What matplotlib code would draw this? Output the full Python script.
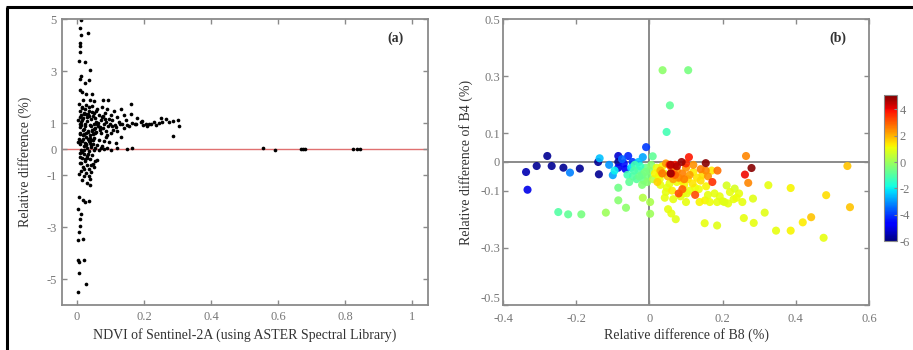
import matplotlib
matplotlib.use("Agg")
import matplotlib.pyplot as plt
from matplotlib.lines import Line2D
import numpy as np

plt.rcParams['font.family'] = ['Liberation Serif', 'DejaVu Serif']
plt.rcParams['axes.unicode_minus'] = False

# ---------------- Panel (a) data: NDVI vs relative difference ----------------
ndvi = [
    0.012, 0.010, 0.032, 0.012, 0.010, 0.010, 0.008, 0.005, 0.024, 0.040,
    0.012, 0.010, 0.036, 0.024, 0.008, 0.014, 0.028, 0.044, 0.018, 0.052,
    0.040, 0.078, 0.092, 0.160,
    0.006, 0.015, 0.028, 0.045, 0.060, 0.075, 0.090, 0.110, 0.130, 0.008,
    0.020, 0.035, 0.050, 0.065, 0.082, 0.100, 0.120, 0.140, 0.160, 0.180,
    0.010, 0.018, 0.030, 0.042, 0.055, 0.070, 0.085, 0.095, 0.105, 0.125,
    0.145, 0.165, 0.190, 0.205, 0.220, 0.235, 0.245, 0.255, 0.265, 0.275,
    0.250, 0.300, 0.305, 0.285, 0.230, 0.210, 0.195, 0.175, 0.155, 0.135,
    0.115, 0.012, 0.025, 0.038, 0.050, 0.062, 0.078, 0.092, 0.108, 0.120,
    0.140, 0.008, 0.020, 0.032, 0.045, 0.058, 0.072, 0.088, 0.100, 0.130,
    0.285, 0.010, 0.018, 0.028, 0.040, 0.052, 0.065, 0.080, 0.095, 0.115,
    0.006, 0.015, 0.025, 0.035, 0.048, 0.060, 0.075, 0.090, 0.120, 0.165,
    0.008, 0.020, 0.030, 0.042, 0.055, 0.070, 0.012, 0.022, 0.035, 0.050,
    0.065, 0.080, 0.100, 0.150,
    0.016, 0.026, 0.036, 0.046, 0.056, 0.014, 0.024, 0.034, 0.044, 0.054,
    0.022, 0.032, 0.042, 0.068, 0.085, 0.012, 0.026, 0.038, 0.048,
    0.004, 0.009, 0.013, 0.019, 0.023, 0.027, 0.031, 0.037, 0.041, 0.047,
    0.051, 0.057, 0.063, 0.067, 0.073, 0.079, 0.083, 0.087, 0.097, 0.103,
    0.004, 0.009, 0.013, 0.017, 0.021, 0.027, 0.033, 0.039, 0.043, 0.049,
    0.053, 0.061, 0.069, 0.077, 0.112, 0.128, 0.148, 0.172, 0.198, 0.215,
    0.008, 0.016, 0.024, 0.033, 0.041, 0.005, 0.013, 0.021, 0.029, 0.037,
    0.010, 0.020, 0.030, 0.045, 0.015, 0.025, 0.040, 0.055, 0.010, 0.030,
    0.048, 0.060, 0.018, 0.035, 0.050, 0.012, 0.028, 0.042, 0.022, 0.038,
    0.015, 0.030, 0.040, 0.006, 0.018, 0.035, 0.025, 0.004, 0.012, 0.008,
    0.010, 0.006, 0.018, 0.004, 0.004, 0.022, 0.006, 0.006, 0.028, 0.004,
    0.555, 0.590, 0.670, 0.675, 0.680, 0.825, 0.835, 0.845,
]
rel_diff = [
    4.96, 4.65, 4.45, 4.40, 4.06, 3.95, 3.75, 3.40, 3.35, 3.05,
    2.80, 2.70, 2.65, 2.55, 2.27, 2.20, 2.12, 2.10, 1.90, 1.84,
    1.88, 1.88, 1.88, 1.72,
    1.75, 1.62, 1.70, 1.65, 1.55, 1.60, 1.52, 1.45, 1.55, 1.45,
    1.40, 1.48, 1.38, 1.32, 1.40, 1.30, 1.25, 1.30, 1.35, 1.20,
    1.25, 1.18, 1.22, 1.15, 1.20, 1.12, 1.05, 1.15, 1.10, 1.05,
    1.12, 1.00, 1.02, 0.95, 0.98, 0.92, 1.00, 1.05, 1.15, 1.02,
    1.18, 1.10, 0.90, 1.08, 1.05, 0.90, 1.08, 0.95, 0.88, 0.95,
    0.85, 1.05, 0.98, 0.92, 0.98, 0.88, 0.82, 0.90, 0.75, 0.70,
    0.80, 0.85, 0.78, 0.70, 0.75, 0.65, 0.60, 0.55, 0.62, 0.45,
    0.50, 0.62, 0.55, 0.48, 0.52, 0.42, 0.35, 0.30, 0.28, 0.25,
    0.40, 0.32, 0.25, 0.30, 0.20, 0.15, 0.12, 0.05, 0.02, 0.05,
    0.18, 0.10, 0.05, 0.08, 0.02, 0.04, -0.02, -0.05, -0.08, -0.04,
    -0.02, -0.01, -0.02, 0.00,
    1.58, 1.36, 1.26, 1.44, 1.02, 1.12, 0.88, 1.34, 0.68, 0.82,
    0.58, 0.40, 0.36, 0.72, 0.48, 0.30, 0.14, 0.22, 0.56,
    1.10, 0.95, 1.30, 0.72, 1.52, 0.60, 1.08, 1.62, 0.88, 1.28,
    0.76, 1.46, 1.00, 0.84, 1.24, 0.96, 1.16, 0.70, 0.98, 0.88,
    0.28, 0.58, 0.92, 0.38, 1.36, 0.18, 0.66, 0.44, 0.14, 0.36,
    0.62, 0.96, 0.80, 1.26, 0.92, 0.98, 0.94, 0.98, 0.92, 0.96,
    -0.30, -0.12, -0.40, -0.18, -0.62, -0.95, -0.52, -0.78, -0.34, -1.02,
    -0.15, -0.20, -0.28, -0.22, -0.35, -0.45, -0.40, -0.48, -0.55, -0.60,
    -0.58, -0.42, -0.70, -0.75, -0.68, -0.85, -0.92, -0.88, -1.05, -1.15,
    -1.20, -1.30, -1.40, -1.85, -1.95, -2.00, -2.05, -2.30, -2.50, -2.70,
    -2.95, -3.20, -3.45, -3.50, -4.25, -4.25, -4.35, -4.75, -5.20, -5.50,
    0.05, -0.02, 0.00, 0.00, -0.01, 0.00, -0.01, 0.00,
]

# ---------------- Panel (b) data: B8 vs B4 relative difference, coloured ----------------
b8_diff = [
    -0.337, -0.333, -0.308, -0.279, -0.267, -0.235, -0.190, -0.140, -0.138, -0.085,
    -0.085, -0.085, -0.070, -0.065, -0.058, -0.046, -0.009,
    -0.217, -0.136, -0.100, -0.110, -0.075, -0.018, -0.030, -0.050, -0.095,
    0.009, -0.040, -0.030, -0.020, -0.010, -0.045, -0.035, -0.015, -0.005, -0.060,
    -0.025, 0.000, -0.055, 0.005, -0.085, -0.012, -0.028, -0.042, -0.006, -0.020,
    -0.249, -0.222, -0.186, -0.119, -0.085, -0.064, 0.036, 0.106, 0.056, 0.047,
    -0.018, 0.002, 0.002, 0.010,
    0.325, 0.386, 0.483, 0.476, 0.346, 0.386, 0.419, 0.442, 0.548, 0.541,
    0.315, 0.285, 0.283, 0.258, 0.254, 0.233, 0.215, 0.200, 0.185, 0.230,
    0.245, 0.211, 0.185, 0.151, 0.152, 0.137, 0.165, 0.051, 0.072, 0.060,
    0.045, 0.030, 0.025, 0.040, 0.055, 0.075, 0.095, 0.110, 0.125, 0.085,
    0.065, 0.100, 0.020, 0.035, 0.130, 0.145, 0.170, 0.120, 0.105,
    0.015, 0.028, 0.048, 0.062, 0.088, 0.102, 0.118, 0.135, 0.155, 0.178,
    0.192, 0.220, 0.238, 0.022, 0.042, 0.068, 0.093, 0.140, 0.160, 0.205,
    0.270, 0.264, 0.186, 0.154, 0.045, 0.060, 0.075, 0.090, 0.100, 0.080,
    0.065, 0.120, 0.140, 0.160, 0.050, 0.030, 0.110, 0.035, 0.070, 0.095,
    0.261, 0.172, 0.108, 0.080, 0.090, 0.055, 0.070, 0.100, 0.060, 0.125,
    0.279, 0.154, 0.088, 0.058, 0.058, 0.075,
]
b4_diff = [
    -0.035, -0.097, -0.014, 0.021, -0.014, -0.020, -0.023, 0.000, -0.043, 0.021,
    0.000, -0.020, -0.005, -0.025, 0.021, 0.000, 0.052,
    -0.037, 0.013, -0.046, -0.010, 0.010, 0.017, 0.000, -0.020, -0.030,
    0.020, -0.010, -0.030, -0.045, -0.020, -0.050, -0.060, -0.065, -0.050, -0.045,
    -0.015, -0.030, -0.070, -0.010, -0.090, -0.035, -0.050, -0.030, -0.070, -0.080,
    -0.175, -0.183, -0.183, -0.177, -0.134, -0.160, 0.321, 0.321, 0.198, 0.105,
    -0.125, -0.181, -0.140, -0.060,
    -0.081, -0.091, -0.116, -0.265, -0.240, -0.240, -0.211, -0.193, -0.158, -0.014,
    -0.177, -0.213, -0.128, -0.196, -0.140, -0.093, -0.145, -0.137, -0.140, -0.130,
    -0.110, -0.082, -0.222, -0.214, -0.134, -0.140, -0.140, -0.165, -0.200, -0.180,
    -0.105, -0.080, -0.050, -0.040, -0.075, -0.070, -0.080, -0.100, -0.090, -0.120,
    -0.130, -0.140, -0.020, -0.015, -0.055, -0.045, -0.030, -0.035, -0.060,
    -0.040, -0.060, -0.090, -0.100, -0.065, -0.110, -0.075, -0.095, -0.085, -0.110,
    -0.120, -0.105, -0.125, -0.070, -0.125, -0.050, -0.110, -0.065, -0.115, -0.140,
    -0.073, 0.021, -0.030, -0.030, -0.005, -0.020, -0.030, -0.040, -0.020, -0.055,
    -0.060, -0.010, -0.025, -0.050, -0.050, -0.030, -0.045, -0.040, -0.045, -0.060,
    -0.044, -0.070, 0.017, -0.110, -0.095, -0.010, -0.010, -0.005, -0.040, -0.115,
    -0.021, -0.004, 0.000, -0.010, -0.040, -0.015,
]
color_value = [
    -5.5, -5.0, -5.8, -5.8, -5.8, -5.8, -5.8, -5.8, -5.8, -5.2,
    -5.8, -5.0, -4.5, -4.8, -4.2, -4.0, -4.0,
    -3.2, -2.5, -2.8, -3.0, -3.5, -2.8, -2.5, -2.2, -2.0,
    -0.8, -1.2, -1.0, -0.8, -0.6, -1.0, -0.9, -0.7, -0.5, -1.2,
    -1.4, -0.4, -0.8, -0.3, -0.6, -0.5, -0.7, -1.1, -0.3, -0.4,
    -1.0, -0.8, -0.5, 0.0, -0.3, -0.2, -0.2, -0.5, -0.8, -1.2,
    0.3, 0.0, 0.2, 0.3,
    1.0, 1.2, 1.5, 1.0, 1.0, 1.2, 1.3, 1.8, 1.8, 1.8,
    0.9, 1.0, 0.9, 1.0, 1.0, 0.8, 1.0, 1.0, 1.0, 1.0,
    1.0, 0.8, 0.9, 1.0, 1.2, 1.2, 1.1, 1.0, 0.9, 1.0,
    1.0, 1.0, 1.0, 1.0, 1.0, 1.1, 1.2, 1.0, 1.1, 1.0,
    1.0, 1.0, 1.0, 1.2, 1.4, 1.5, 1.3, 1.3, 1.5,
    1.2, 1.1, 1.0, 1.3, 1.2, 1.0, 1.4, 1.1, 1.2, 1.0,
    1.0, 1.0, 1.1, 1.6, 1.0, 1.6, 1.0, 1.5, 1.0, 0.9,
    2.5, 2.5, 2.8, 2.5, 2.3, 2.5, 2.3, 2.6, 2.4, 2.5,
    2.2, 2.4, 2.6, 2.4, 2.0, 2.0, 2.2, 2.7, 2.9, 2.6,
    4.0, 3.5, 3.8, 3.2, 3.0, 3.5, 3.8, 3.6, 3.8, 3.2,
    5.0, 5.0, 4.8, 4.5, 4.8, 4.6,
]

a_xticks = [0, 0.2, 0.4, 0.6, 0.8, 1]
a_xticklabels = ['0', '0.2', '0.4', '0.6', '0.8', '1']
a_yticks = [-5, -3, -1, 0, 1, 3, 5]
a_yticklabels = ['-5', '-3', '-1', '0', '1', '3', '5']
b_xticks = [-0.4, -0.2, 0, 0.2, 0.4, 0.6]
b_xticklabels = ['-0.4', '-0.2', '0', '0.2', '0.4', '0.6']
b_yticks = [-0.5, -0.3, -0.1, 0, 0.1, 0.3, 0.5]
b_yticklabels = ['-0.5', '-0.3', '-0.1', '0', '0.1', '0.3', '0.5']
cb_ticks = [-6, -4, -2, 0, 2, 4]

W, H = 913, 350
fig = plt.figure(figsize=(W / 100, H / 100), dpi=100)

spine_c = '#8a8a8a'
tick_c = '#777777'
label_c = '#333333'


def style(ax):
    for s in ax.spines.values():
        s.set_color(spine_c)
        s.set_linewidth(1.3)
    ax.tick_params(direction='in', length=3.5, width=1, color=spine_c,
                   labelcolor=tick_c, labelsize=9, top=True, right=True, pad=4)


ax1 = fig.add_axes([62 / W, 1 - 305 / H, 366 / W, 286 / H])
ax1.axhline(0, color='#e07070', lw=1.0, zorder=1)
ax1.scatter(ndvi, rel_diff, s=7, c='black', marker='o', linewidths=0, zorder=2)
ax1.set_xlim(-0.045, 1.048)
ax1.set_ylim(-6, 5)
ax1.set_xticks(a_xticks)
ax1.set_xticklabels(a_xticklabels)
ax1.set_yticks(a_yticks)
ax1.set_yticklabels(a_yticklabels)
style(ax1)
ax1.set_xlabel('NDVI of Sentinel-2A (using ASTER Spectral Library)', fontsize=10, color=label_c, labelpad=4)
ax1.set_ylabel('Relative difference (%)', fontsize=10, color=label_c, labelpad=10)
ax1.text(0.91, 0.934, '(a)', transform=ax1.transAxes, fontsize=10, fontweight='bold',
         color=label_c, ha='center', va='center')

ax2 = fig.add_axes([503 / W, 1 - 305 / H, 366 / W, 286 / H])
ax2.axhline(0, color='#777777', lw=1.2, zorder=1)
ax2.axvline(0, color='#777777', lw=1.2, zorder=1)
sc = ax2.scatter(b8_diff, b4_diff, c=color_value, cmap='jet', vmin=-6, vmax=5.1,
                 s=34, linewidths=0, alpha=0.9, zorder=2)
ax2.set_xlim(-0.4, 0.6)
ax2.set_ylim(-0.5, 0.5)
ax2.set_xticks(b_xticks)
ax2.set_xticklabels(b_xticklabels)
ax2.set_yticks(b_yticks)
ax2.set_yticklabels(b_yticklabels)
style(ax2)
ax2.tick_params(axis='y', pad=2)
ax2.tick_params(axis='x', pad=6)
ax2.get_yticklabels()[0].set_va('bottom')
ax2.set_xlabel('Relative difference of B8 (%)', fontsize=10, color=label_c, labelpad=2)
ax2.set_ylabel('Relative difference of B4 (%)', fontsize=10, color=label_c, labelpad=5)
ax2.text(0.915, 0.934, '(b)', transform=ax2.transAxes, fontsize=10, fontweight='bold',
         color=label_c, ha='center', va='center')

cax = fig.add_axes([884 / W, 1 - 241 / H, 13 / W, 146 / H])
cb = fig.colorbar(sc, cax=cax, ticks=cb_ticks)
cb.solids.set_alpha(1)
cb.outline.set_edgecolor(spine_c)
cb.outline.set_linewidth(0.8)
cax.tick_params(direction='in', length=2, color=spine_c, labelcolor=tick_c, labelsize=9, pad=2)

# figure frame lines (top and left)
fig.add_artist(Line2D([7 / W, 7 / W], [0, 1 - 7 / H], transform=fig.transFigure,
                      color='black', lw=2.2, solid_capstyle='butt'))
fig.add_artist(Line2D([6 / W, 1], [1 - 7 / H, 1 - 7 / H], transform=fig.transFigure,
                      color='black', lw=2.2, solid_capstyle='butt'))

fig.savefig('out.png', dpi=100)
